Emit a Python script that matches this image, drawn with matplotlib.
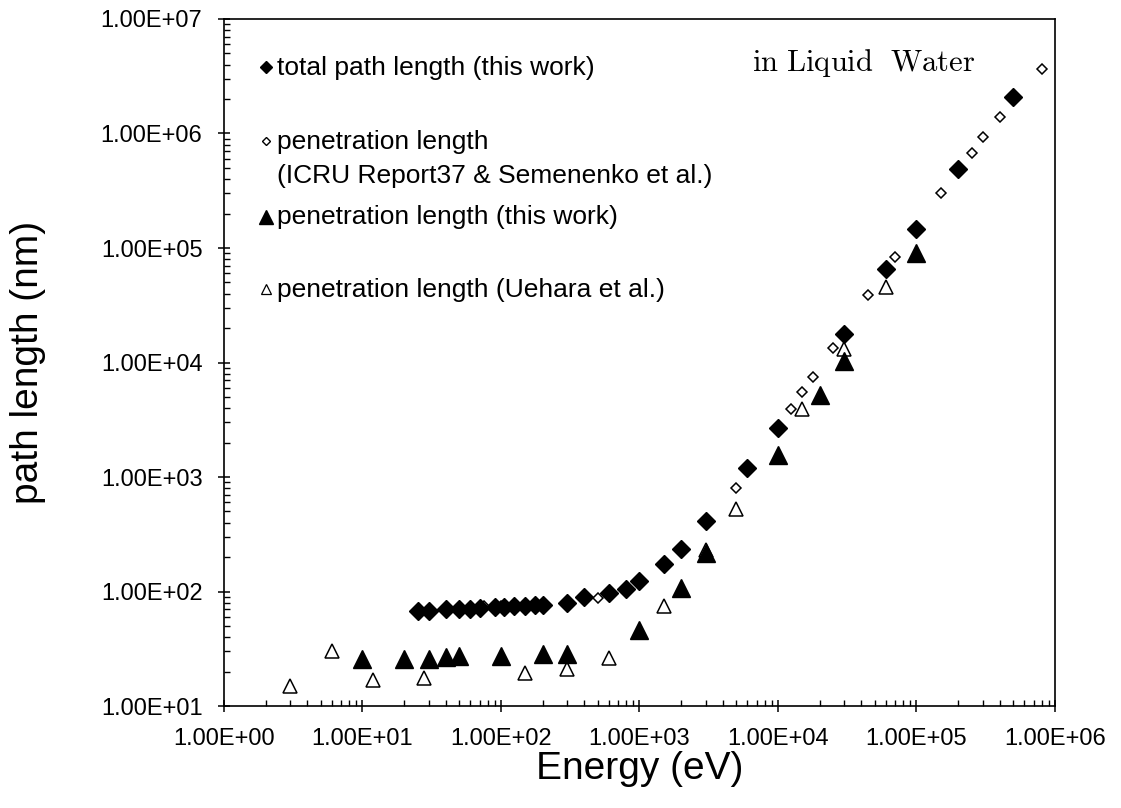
import matplotlib
matplotlib.use("Agg")
import matplotlib.pyplot as plt
from matplotlib.ticker import FuncFormatter, LogLocator, NullFormatter

plt.rcParams['font.family'] = ['Liberation Sans', 'DejaVu Sans']
plt.rcParams['mathtext.fontset'] = 'cm'

# total path length (this work)
total_E = [25, 30, 40, 50, 60, 70, 90, 105, 125, 150, 175, 200, 300, 400, 600, 800,
           1000, 1500, 2000, 3000, 6000, 10000, 30000, 60000, 100000, 200000, 500000]
total_L = [67, 67, 70, 71, 71, 72, 73, 73, 74, 75, 76, 76, 80, 90, 98, 106,
           123, 173, 233, 417, 1190, 2690, 17900, 65800, 147000, 486000, 2.07e6]

# penetration length (ICRU Report37 & Semenenko et al.)
icru_E = [75, 100, 500, 5000, 12500, 15000, 18000, 25000, 45000, 70000,
          150000, 250000, 300000, 400000, 800000]
icru_L = [74, 74, 87, 796, 3950, 5530, 7500, 13500, 38900, 82800,
          3.03e5, 6.8e5, 9.4e5, 1.4e6, 3.66e6]

# penetration length (this work)
pen_E = [10, 20, 30, 40, 50, 100, 200, 300, 1000, 2000, 3000, 10000, 20000, 30000, 100000]
pen_L = [26, 25.5, 26, 27, 27.5, 27.5, 28.5, 28.5, 46.5, 108, 215, 1560, 5200, 10400, 90300]

# penetration length (Uehara et al.)
ueh_E = [3, 6, 12, 28, 150, 300, 600, 1500, 3000, 5000, 15000, 30000, 60000]
ueh_L = [15, 30, 17, 17.5, 19.5, 21, 26.5, 74, 232, 524, 3900, 13200, 45200]

fig = plt.figure(figsize=(11.21, 8.08), dpi=100)
ax = fig.add_axes([0.1998, 0.1262, 0.7413, 0.8503])

ax.plot(icru_E, icru_L, ls='none', marker='D', ms=5.2, mfc='white', mec='black', mew=1.1, zorder=2)
ax.plot(ueh_E, ueh_L, ls='none', marker='^', ms=10.5, mfc='white', mec='black', mew=1.1, zorder=2)
ax.plot(total_E, total_L, ls='none', marker='D', ms=8.7, color='black', zorder=3)
ax.plot(pen_E, pen_L, ls='none', marker='^', ms=12.5, color='black', zorder=3)

ax.set_xscale('log')
ax.set_yscale('log')
ax.set_xlim(1, 1e6)
ax.set_ylim(10, 1e7)

fmt = FuncFormatter(lambda v, pos: f"{v:.2E}")
for axis in (ax.xaxis, ax.yaxis):
    axis.set_major_locator(LogLocator(base=10, numticks=12))
    axis.set_minor_locator(LogLocator(base=10, subs=range(2, 10), numticks=12))
    axis.set_major_formatter(fmt)
    axis.set_minor_formatter(NullFormatter())

ax.tick_params(which='major', direction='inout', length=9, width=1.1, labelsize=17, pad=11)
ax.tick_params(which='minor', direction='in', length=4.5, width=1.0)
ax.tick_params(top=False, right=False, which='both')
for s in ax.spines.values():
    s.set_linewidth(1.2)

ax.set_xlabel('Energy (eV)', fontsize=28)
ax.set_ylabel('path length (nm)', fontsize=28)
ax.xaxis.set_label_coords(0.5006, -0.065)
ax.yaxis.set_label_coords(-0.214, 0.5)

# hand-drawn key
key_x, text_x = 0.0505, 0.0634
ax.plot([key_x], [0.9306], transform=ax.transAxes, marker='D', ms=6.2, color='black', clip_on=False)
ax.plot([key_x], [0.8229], transform=ax.transAxes, marker='D', ms=4.2, mfc='white', mec='black', mew=1.0, clip_on=False)
ax.plot([key_x], [0.7125], transform=ax.transAxes, marker='^', ms=10, color='black', clip_on=False)
ax.plot([key_x], [0.6063], transform=ax.transAxes, marker='^', ms=7.5, mfc='white', mec='black', mew=0.9, clip_on=False)

key_fs = 19
ax.text(text_x, 0.9185, 'total path length (this work)', transform=ax.transAxes, fontsize=key_fs, va='baseline')
ax.text(text_x, 0.8103, 'penetration length', transform=ax.transAxes, fontsize=key_fs, va='baseline')
ax.text(text_x, 0.7613, '(ICRU Report37 & Semenenko et al.)', transform=ax.transAxes, fontsize=key_fs, va='baseline')
ax.text(text_x, 0.7023, 'penetration length (this work)', transform=ax.transAxes, fontsize=key_fs, va='baseline')
ax.text(text_x, 0.5958, 'penetration length (Uehara et al.)', transform=ax.transAxes, fontsize=key_fs, va='baseline')

ax.text(0.6354, 0.9248, r'$\mathrm{in\ Liquid\ \ Water}$', transform=ax.transAxes, fontsize=22, va='baseline')

fig.savefig('out.png', dpi=100)
